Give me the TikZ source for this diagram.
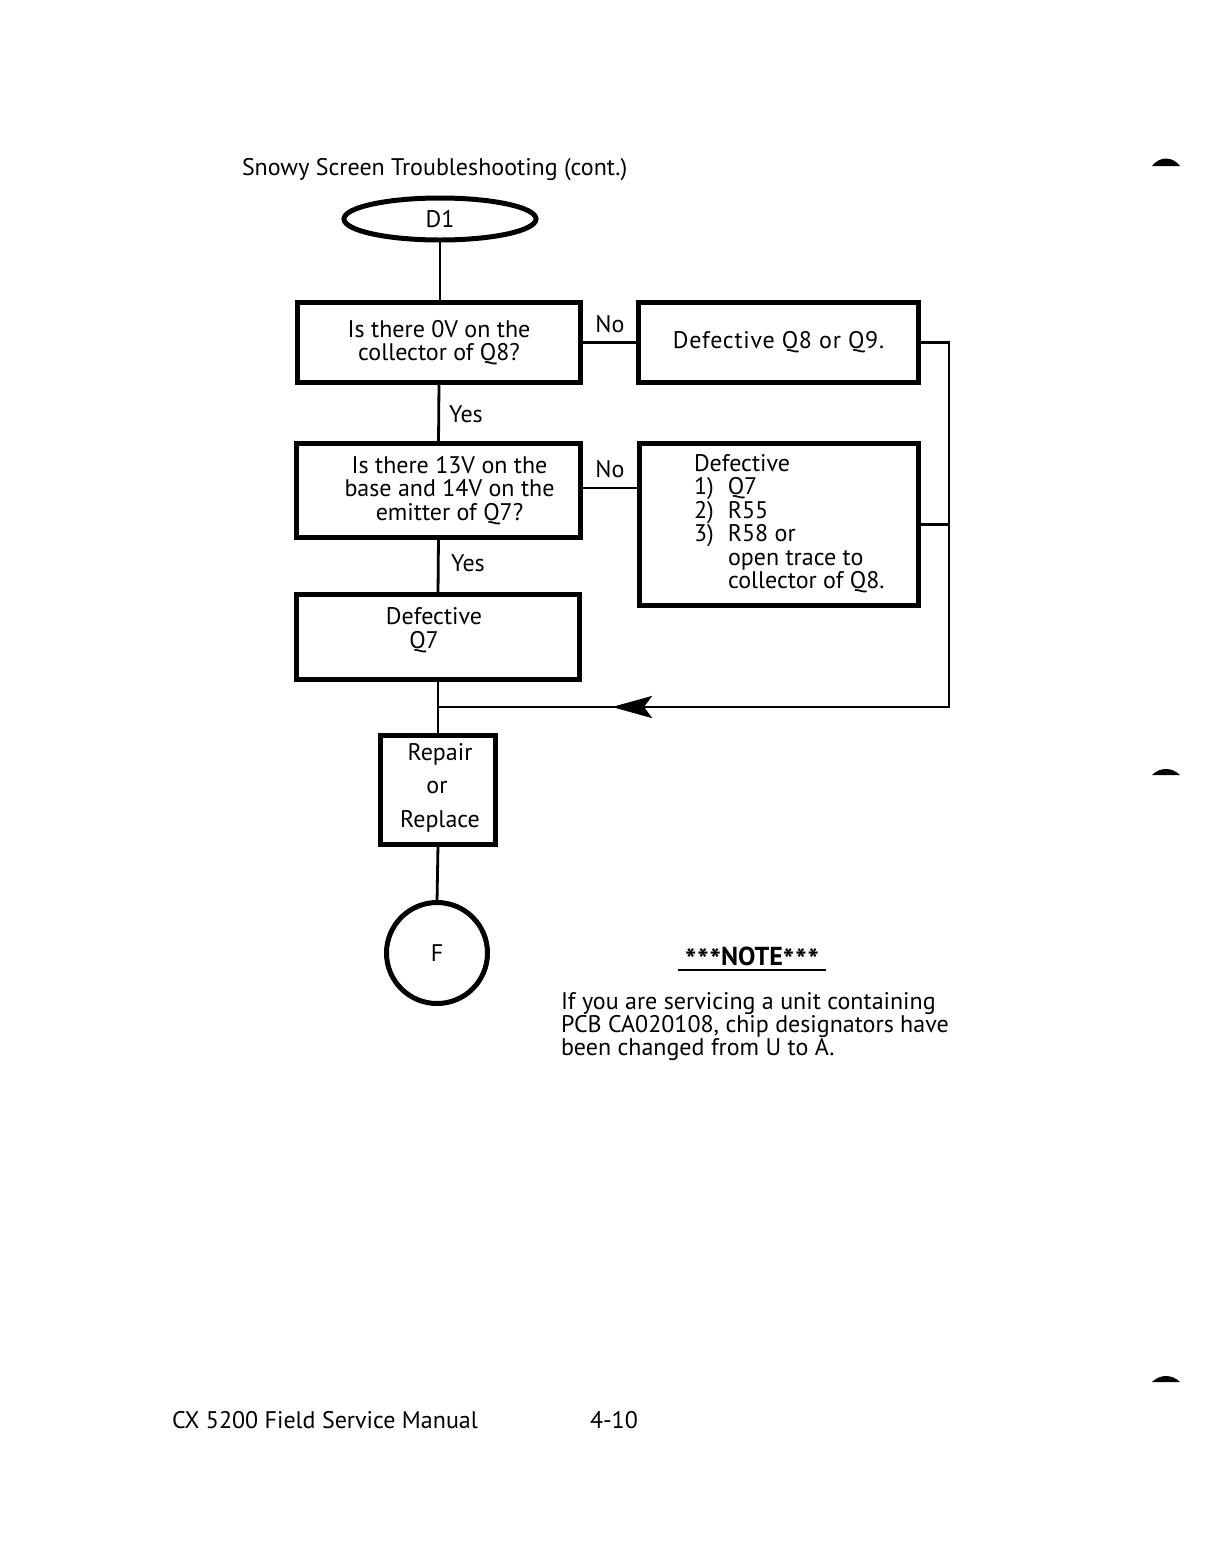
\documentclass[tikz,border=0pt]{standalone}
\usepackage{fontspec}
\setmainfont{PT Sans}
\usetikzlibrary{shapes.geometric,arrows.meta}
\newcommand{\myast}{\raisebox{-5pt}{\fontsize{30}{30}\selectfont\bfseries*\kern1pt*\kern1pt*}}
\begin{document}
\begin{tikzpicture}[x=1pt,y=-1pt,
  every node/.style={font=\fontsize{24}{23.5}\selectfont, inner sep=0pt, outer sep=0pt, align=center},
  box/.style={draw, line width=5pt, align=center},
  conn/.style={line width=2.8pt}]
\useasboundingbox[fill=white] (0,0) rectangle (1218,1564);
\node[anchor=west] (title) at (242,170) {Snowy Screen Troubleshooting (cont.)};
\node[draw, ellipse, line width=5pt, minimum width=192pt, minimum height=42pt] (d1) at (440,219) {D1};
\node[box, minimum width=283pt, minimum height=80pt] (q1) at (439,342.5) {Is there 0V on the\\collector of Q8?};
\node[box, minimum width=280pt, minimum height=80pt] (d2) at (778.5,342.5) {\addfontfeature{LetterSpace=3}Defective Q8 or Q9.};
\node[box, minimum width=284pt, minimum height=94pt] (q2) at (438.5,490.5) {\hspace*{22pt}Is there 13V on the\\\hspace*{22pt}base and 14V on the\\\hspace*{22pt}emitter of Q7?};
\node[box, minimum width=279pt, minimum height=162pt] (d3) at (779,524.5) {};
\node[anchor=north west, align=left] (d3t) at (694,454) {Defective\\1)\hspace{14pt}Q7\\2)\hspace{14pt}R55\\3)\hspace{14pt}R58 or\\\hspace*{34pt}open trace to\\\hspace*{34pt}collector of Q8.};
\node[box, minimum width=283pt, minimum height=85pt] (d4) at (438,637) {};
\node (d4t) at (434,630) {Defective\\\hspace*{-20pt}Q7};
\node[box, minimum width=115pt, minimum height=109pt] (rr) at (438,790) {};
\node (rr1) at (440,754) {Repair};
\node (rr2) at (437,787) {or};
\node (rr3) at (440,821) {Replace};
\node[draw, circle, line width=5pt, minimum size=101pt] (f) at (437,953) {F};
% connectors
\draw[conn] (d1.south) -- (d1.south |- q1.north);
\draw[conn] (q1.south) -- (q2.north);
\draw[conn] (q2.south) -- (d4.north);
\draw[conn] (d4.south) -- (rr.north);
\draw[conn] (rr.south) -- (f.north);
\draw[conn] (q1.east) -- (d2.west);
\coordinate (q2r) at ([yshift=2.5pt]q2.east);
\draw[conn] (q2r) -- (q2r -| d3.west);
\coordinate (c1) at (949,342.5);
\coordinate (c2) at (949,707);
\coordinate (j) at (d4.south |- c2);
\draw[conn] (d2.east) -- (c1) -- (c2) -- (j);
\draw[conn] (d3.east) -- (d3.east -| c1);
\coordinate (ah) at (612,707);
\draw[conn, -{Stealth[length=40pt,width=22pt,inset=8pt]}] (700,707) -- (ah);
% labels
\node (no1) at (610,324) {No};
\node (no2) at (610,469) {No};
\node (yes1) at (466,414) {Yes};
\node (yes2) at (468,563) {Yes};
% note
\node[anchor=base] (note) at (752,965) {\myast{\fontsize{26}{26}\selectfont\bfseries NOTE}\myast};
\draw[line width=2pt] (678,970) -- (826,970);
\node[anchor=north west, align=left, font=\fontsize{24}{23.2}\selectfont] (para) at (561,992) {If you are servicing a unit containing\\PCB CA020108, chip designators have\\been changed from U to A.};
% footer
\node[anchor=west] (foot) at (172,1420) {CX 5200 Field Service Manual};
\node[anchor=west] (page) at (590,1420) {4-10};
% edge marks
\fill (1152,166) .. controls (1160,156) and (1172,156) .. (1180,166) -- cycle;
\fill (1152,775) .. controls (1160,767) and (1172,767) .. (1180,775) -- cycle;
\fill (1152,1382) .. controls (1160,1374) and (1172,1374) .. (1180,1382) -- cycle;
\end{tikzpicture}
\end{document}
